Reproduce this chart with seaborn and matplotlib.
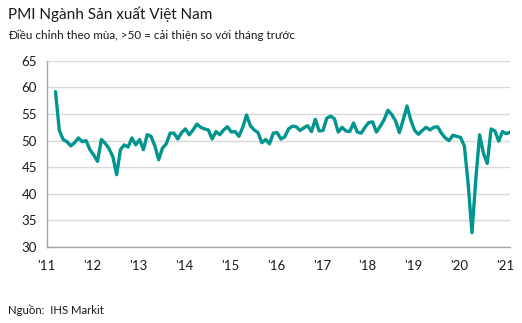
import numpy as np
import pandas as pd
import matplotlib
matplotlib.use("Agg")
import matplotlib.pyplot as plt
import seaborn as sns

# Monthly PMI, Mar 2011 .. Feb 2021
start_month = "2011-03"
pmi = [
    # 2011 Mar-Dec
    59.2, 51.9, 50.2, 49.8, 49.0, 49.6, 50.5, 49.8, 50.0, 48.3,
    # 2012
    47.3, 46.1, 50.2, 49.5, 48.5, 47.0, 43.6, 48.3, 49.2, 48.8, 50.5, 49.2,
    # 2013
    50.2, 48.3, 51.1, 50.8, 49.0, 46.4, 48.6, 49.4, 51.4, 51.4, 50.3, 51.5,
    # 2014
    52.2, 51.1, 52.0, 53.1, 52.5, 52.2, 52.0, 50.3, 51.7, 51.1, 52.0, 52.6,
    # 2015
    51.6, 51.7, 50.8, 52.5, 54.8, 52.8, 52.0, 51.5, 49.6, 50.2, 49.4, 51.4,
    # 2016
    51.5, 50.3, 50.7, 52.2, 52.7, 52.6, 51.9, 52.4, 52.8, 51.7, 54.0, 51.8,
    # 2017
    51.9, 54.2, 54.6, 54.1, 51.6, 52.5, 51.8, 51.7, 53.3, 51.6, 51.4, 52.5,
    # 2018
    53.4, 53.5, 51.6, 52.7, 53.9, 55.7, 54.9, 53.7, 51.5, 53.9, 56.5, 53.8,
    # 2019
    51.9, 51.2, 51.9, 52.5, 52.0, 52.5, 52.6, 51.4, 50.5, 50.0, 51.0, 50.8,
    # 2020
    50.6, 49.0, 41.9, 32.7, 42.7, 51.1, 47.6, 45.7, 52.2, 51.8, 49.9, 51.7,
    # 2021
    51.3, 51.6,
]
year_ticks = list(range(2011, 2022))
year_labels = ["'11", "'12", "'13", "'14", "'15", "'16", "'17", "'18", "'19", "'20", "'21"]
y_ticks = [30, 35, 40, 45, 50, 55, 60, 65]

title = "PMI Ngành Sản xuất Việt Nam"
subtitle = "Điều chỉnh theo mùa, >50 = cải thiện so với tháng trước"
source = "Nguồn:  IHS Markit"

dates = pd.date_range(start_month, periods=len(pmi), freq="MS")
df = pd.DataFrame({
    "x": dates.year + (dates.month - 1 + 0.3) / 12.0,
    "pmi": pmi,
})

sns.set_style("white")
plt.rcParams["font.family"] = ["Lato", "DejaVu Sans"]

fig = plt.figure(figsize=(5.22, 3.23), dpi=100)
ax = fig.add_axes([0.0895, 0.235, 0.888, 0.577])

ax.yaxis.grid(True, color="#d9d9d9", linewidth=1.0)
ax.set_axisbelow(True)

sns.lineplot(data=df, x="x", y="pmi", ax=ax, color="#00958f", linewidth=2.4,
             solid_joinstyle="round", solid_capstyle="round")

ax.set_xlim(2011.0, 2021.11)
ax.set_ylim(30, 65)
ax.set_xticks(year_ticks)
ax.set_xticklabels(year_labels)
ax.set_yticks(y_ticks)
ax.set_xlabel("")
ax.set_ylabel("")

for s in ["top", "right"]:
    ax.spines[s].set_visible(False)
for s in ["left", "bottom"]:
    ax.spines[s].set_color("#a6a6a6")
    ax.spines[s].set_linewidth(1.0)

ax.tick_params(axis="both", which="both", direction="out", length=4, width=1.0,
               color="#a6a6a6", labelsize=9.5, labelcolor="#1a1a1a")
ax.tick_params(axis="x", pad=5)
ax.tick_params(axis="y", pad=3)

fig.text(0.015, 0.955, title, fontsize=11, color="#1a1a1a", va="center", ha="left")
fig.text(0.015, 0.89, subtitle, fontsize=8.4, color="#1a1a1a", va="center", ha="left")
fig.text(0.015, 0.04, source, fontsize=8.2, color="#1a1a1a", va="center", ha="left")

fig.savefig("out.png", dpi=100)
